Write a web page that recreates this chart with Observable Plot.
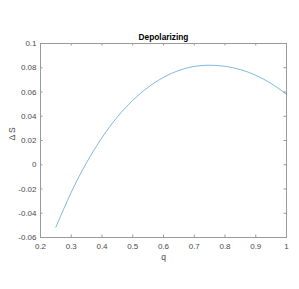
<!DOCTYPE html>
<html>
<head>
<meta charset="utf-8">
<script src="https://cdn.jsdelivr.net/npm/d3@7"></script>
<script src="https://cdn.jsdelivr.net/npm/@observablehq/plot@0.6"></script>
<style>
  html, body { margin: 0; padding: 0; background: #fff; }
  svg { display: block; }
</style>
</head>
<body>
<div id="chart"></div>
<script>
const titleText = "Depolarizing";
const xLabel = "q";
const yLabel = "Δ S";

const qValues = [0.25, 0.30, 0.35, 0.40, 0.45, 0.50, 0.55, 0.60, 0.65, 0.70, 0.75, 0.80, 0.85, 0.90, 0.95, 1.00];
const deltaS  = [-0.0515, -0.0227, 0.0018, 0.0224, 0.0394, 0.0531, 0.0639, 0.0721, 0.0778, 0.0811, 0.0821, 0.0812, 0.0785, 0.0738, 0.0670, 0.0582];

const xTicks = [0.2, 0.3, 0.4, 0.5, 0.6, 0.7, 0.8, 0.9, 1];
const xTickLabels = ["0.2", "0.3", "0.4", "0.5", "0.6", "0.7", "0.8", "0.9", "1"];
const yTicks = [-0.06, -0.04, -0.02, 0, 0.02, 0.04, 0.06, 0.08, 0.1];
const yTickLabels = ["-0.06", "-0.04", "-0.02", "0", "0.02", "0.04", "0.06", "0.08", "0.1"];

const data = qValues.map((q, i) => ({q, s: deltaS[i]}));

const W = 299, H = 289;
const mL = 40, mR = 13, mT = 43, mB = 52;
const frameH = H - mT - mB;
const frameW = W - mL - mR;
const tickLen = 2.5;
const axisColor = "#9a9a9a";
const textColor = "#4a4a4a";

const chart = Plot.plot({
  width: W,
  height: H,
  marginLeft: mL,
  marginRight: mR,
  marginTop: mT,
  marginBottom: mB,
  style: {fontFamily: "'Liberation Sans', Arial, Helvetica, sans-serif", fontSize: "8px", background: "#fff", color: textColor},
  x: {domain: [0.2, 1]},
  y: {domain: [-0.06, 0.1]},
  marks: [
    Plot.frame({stroke: axisColor}),
    // inward ticks on all four sides
    Plot.ruleX(xTicks, {x: d => d, stroke: axisColor, insetTop: frameH - tickLen}),
    Plot.ruleX(xTicks, {x: d => d, stroke: axisColor, insetBottom: frameH - tickLen}),
    Plot.ruleY(yTicks, {y: d => d, stroke: axisColor, insetRight: frameW - tickLen}),
    Plot.ruleY(yTicks, {y: d => d, stroke: axisColor, insetLeft: frameW - tickLen}),
    Plot.axisX({ticks: xTicks, tickSize: 0, tickPadding: 6, label: null,
      tickFormat: d => xTickLabels[xTicks.indexOf(d)], fill: textColor, fontSize: 8}),
    Plot.axisY({ticks: yTicks, tickSize: 0, tickPadding: 4, label: null,
      tickFormat: d => yTickLabels[yTicks.indexOf(d)], fill: textColor, fontSize: 8}),
    Plot.line(data, {x: "q", y: "s", stroke: "#0072BD", strokeWidth: 0.5, curve: "natural"}),
    Plot.text([titleText], {frameAnchor: "top", lineAnchor: "bottom", dy: -4,
      fontWeight: "bold", fontSize: 8.3, fill: "#000"}),
    Plot.text([xLabel], {frameAnchor: "bottom", lineAnchor: "middle", dy: 20,
      fontSize: 8.5, fill: textColor}),
    Plot.text([yLabel], {frameAnchor: "left", rotate: -90, dx: -28,
      fontSize: 8.5, fill: textColor})
  ]
});
document.getElementById("chart").appendChild(chart);
</script>
</body>
</html>
